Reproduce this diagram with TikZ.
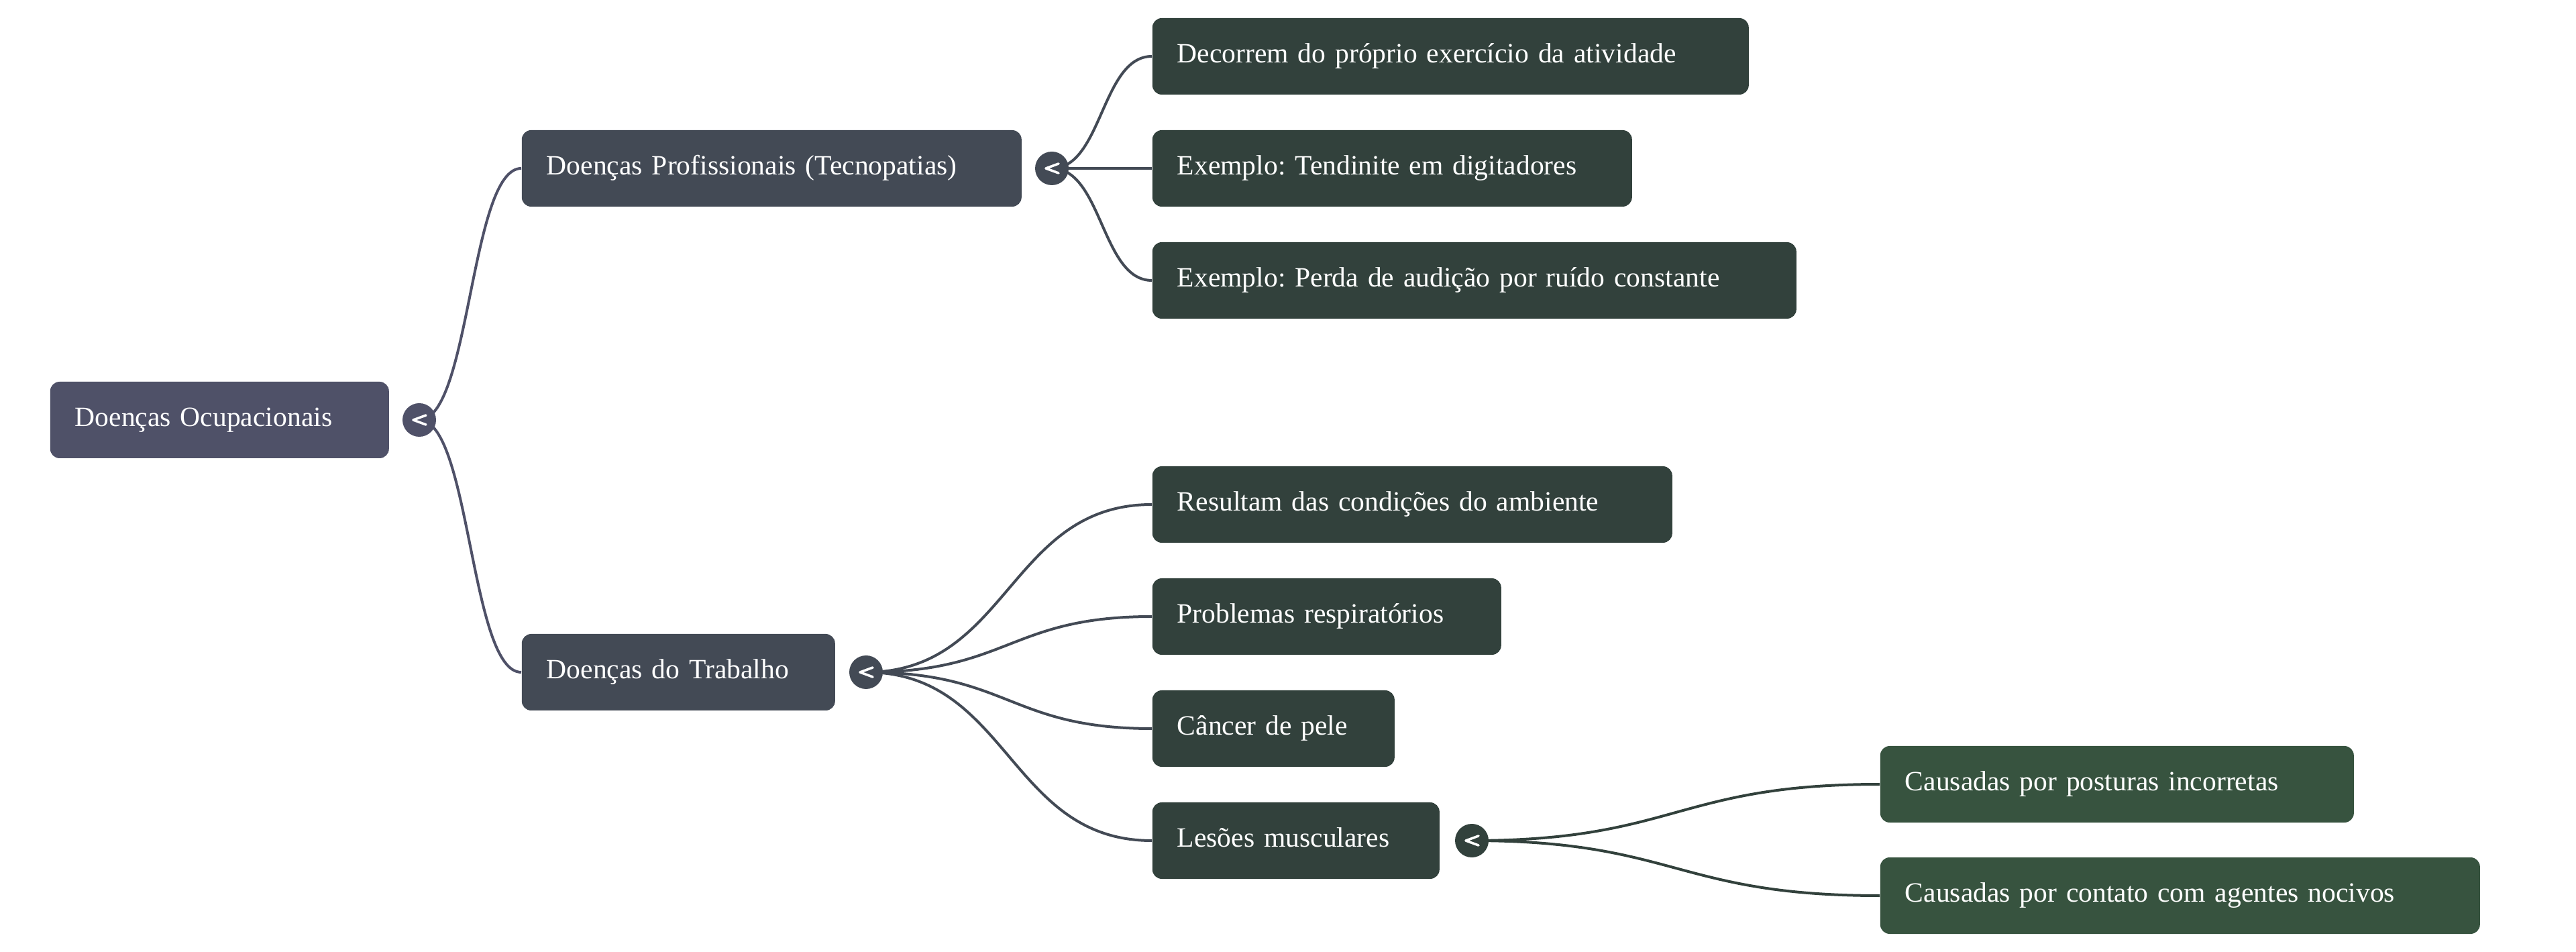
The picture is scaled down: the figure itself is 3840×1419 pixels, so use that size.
\documentclass[tikz,border=0pt]{standalone}
\usepackage{fontspec}
\setmainfont{Liberation Serif}
\frenchspacing
\definecolor{crRoot}{HTML}{4F5168}
\definecolor{crTwo}{HTML}{434A55}
\definecolor{crThree}{HTML}{32413C}
\definecolor{crFour}{HTML}{37533F}
\pgfdeclarelayer{bg}
\pgfsetlayers{bg,main}
\tikzset{
  mbox/.style={anchor=west, rounded corners=3.5pt, text=white, inner xsep=9.25pt, inner ysep=0pt,
    minimum height=28.5pt, align=left, font=\fontsize{10.4}{12.5}\selectfont\frenchspacing,
    text height=0.69em, text depth=0.21em},
  tog/.style={circle, inner sep=0pt, minimum size=12.5pt},
  chev/.style={white, line width=0.9pt, line cap=round, line join=round},
  conn/.style={line width=1pt},
}
\newcommand{\chevron}[1]{\draw[chev] ([shift={(10,-7)}]#1.center) -- ([shift={(-9,0)}]#1.center) -- ([shift={(10,7)}]#1.center);}
\begin{document}
\begin{tikzpicture}[x=0.25pt, y=-0.25pt]
\useasboundingbox (0,0) rectangle (3840,1419);
% level 1
\node[mbox, fill=crRoot, text width=107.75pt] (root) at (74,626) {Doenças Ocupacionais};
\node[tog, fill=crRoot] (t0) at (625,626) {};
% level 2
\node[mbox, fill=crTwo, text width=167.75pt] (dp) at (777,251) {Doenças Profissionais (Tecnopatias)};
\node[tog, fill=crTwo] (t1) at (1568,251) {};
\node[mbox, fill=crTwo, text width=98.25pt] (dt) at (777,1002) {Doenças do Trabalho};
\node[tog, fill=crTwo] (t2) at (1291,1002) {};
% level 3
\node[mbox, fill=crThree, text width=203.75pt] (a1) at (1717,84) {Decorrem do próprio exercício da atividade};
\node[mbox, fill=crThree, text width=160.25pt] (a2) at (1717,251) {Exemplo: Tendinite em digitadores};
\node[mbox, fill=crThree, text width=221.5pt] (a3) at (1717,418) {Exemplo: Perda de audição por ruído constante};
\node[mbox, fill=crThree, text width=175.25pt] (b1) at (1717,752) {Resultam das condições do ambiente};
\node[mbox, fill=crThree, text width=111.5pt] (b2) at (1717,919) {Problemas respiratórios};
\node[mbox, fill=crThree, text width=71.75pt] (b3) at (1717,1086) {Câncer de pele};
\node[mbox, fill=crThree, text width=88.5pt] (b4) at (1717,1253) {Lesões musculares};
\node[tog, fill=crThree] (t3) at (2194,1253) {};
% level 4
\node[mbox, fill=crFour, text width=158pt] (c1) at (2802,1169) {Causadas por posturas incorretas};
\node[mbox, fill=crFour, text width=205pt] (c2) at (2802,1335) {Causadas por contato com agentes nocivos};
% chevrons
\chevron{t0}
\chevron{t1}
\chevron{t2}
\chevron{t3}
% connectors
\begin{pgfonlayer}{bg}
\draw[conn, crRoot] (t0.center) .. controls +(76,0) and +(-76,0) .. (dp.west);
\draw[conn, crRoot] (t0.center) .. controls +(76,0) and +(-76,0) .. (dt.west);
\draw[conn, crTwo] (t1.center) .. controls +(75,0) and +(-75,0) .. (a1.west);
\draw[conn, crTwo] (t1.center) -- (a2.west);
\draw[conn, crTwo] (t1.center) .. controls +(75,0) and +(-75,0) .. (a3.west);
\draw[conn, crTwo] (t2.center) .. controls +(213,0) and +(-213,0) .. (b1.west);
\draw[conn, crTwo] (t2.center) .. controls +(213,0) and +(-213,0) .. (b2.west);
\draw[conn, crTwo] (t2.center) .. controls +(213,0) and +(-213,0) .. (b3.west);
\draw[conn, crTwo] (t2.center) .. controls +(213,0) and +(-213,0) .. (b4.west);
\draw[conn, crThree] (t3.center) .. controls +(304,0) and +(-304,0) .. (c1.west);
\draw[conn, crThree] (t3.center) .. controls +(304,0) and +(-304,0) .. (c2.west);
\end{pgfonlayer}
\end{tikzpicture}
\end{document}
